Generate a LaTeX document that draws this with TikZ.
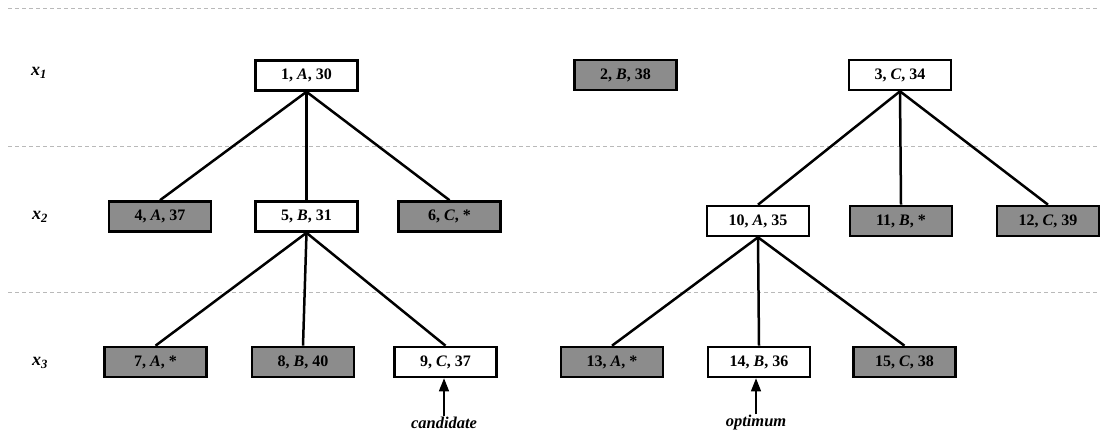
\documentclass[tikz,border=0pt]{standalone}
\usepackage{fontspec}
\setmainfont{Liberation Serif}
\usetikzlibrary{arrows.meta}
\definecolor{boxgray}{RGB}{140,140,140}
\definecolor{dashgray}{RGB}{185,185,185}
\tikzset{
  base/.style={draw=black, line width=2.6pt, minimum width=102pt, minimum height=30pt, inner sep=0pt, font=\fontsize{16}{19}\selectfont\bfseries},
  open/.style={base, fill=white},
  pruned/.style={base, fill=boxgray},
  edge/.style={line width=2.5pt, black},
  sep/.style={dashgray, line width=0.9pt, dash pattern=on 4pt off 3pt},
  lvl/.style={font=\fontsize{18}{22}\selectfont\bfseries\itshape},
  note/.style={font=\fontsize{16.5}{19}\selectfont\bfseries\itshape, inner sep=1pt},
  pointer/.style={line width=1.3pt, -{Triangle[width=10pt,length=13pt]}}
}
\begin{document}
\begin{tikzpicture}[x=1pt,y=-1pt]
\useasboundingbox (0,0) rectangle (1100,434);
% separators
\draw[sep] (8,8) -- (1100,8);
\draw[sep] (8,146) -- (1100,146);
\draw[sep] (8,292) -- (1100,292);
% level labels
\node[lvl] (l1) at (39,73) {x\textsubscript{1}};
\node[lvl] (l2) at (40,217) {x\textsubscript{2}};
\node[lvl] (l3) at (40,363) {x\textsubscript{3}};
% nodes
\node[open]   (n1)  at (306.5,75.5) {1, \textit{A}, 30};
\node[pruned] (n2)  at (625.5,75) {2, \textit{B}, 38};
\node[open]   (n3)  at (900,75) {3, \textit{C}, 34};
\node[pruned] (n4)  at (160,216.5) {4, \textit{A}, 37};
\node[open]   (n5)  at (306.5,216.5) {5, \textit{B}, 31};
\node[pruned] (n6)  at (449.5,216.5) {6, \textit{C}, *};
\node[pruned] (n7)  at (155.5,362) {7, \textit{A}, *};
\node[pruned] (n8)  at (303,362) {8, \textit{B}, 40};
\node[open]   (n9)  at (445.5,362) {9, \textit{C}, 37};
\node[open]   (n10) at (758,221) {10, \textit{A}, 35};
\node[pruned] (n11) at (901,221) {11, \textit{B}, *};
\node[pruned] (n12) at (1048,221) {12, \textit{C}, 39};
\node[pruned] (n13) at (612,362) {13, \textit{A}, *};
\node[open]   (n14) at (759,362) {14, \textit{B}, 36};
\node[pruned] (n15) at (904.5,362) {15, \textit{C}, 38};
% edges
\draw[edge] (n1.south) -- (n4.north);
\draw[edge] (n1.south) -- (n5.north);
\draw[edge] (n1.south) -- (n6.north);
\draw[edge] (n5.south) -- (n7.north);
\draw[edge] (n5.south) -- (n8.north);
\draw[edge] (n5.south) -- (n9.north);
\draw[edge] (n3.south) -- (n10.north);
\draw[edge] (n3.south) -- (n11.north);
\draw[edge] (n3.south) -- (n12.north);
\draw[edge] (n10.south) -- (n13.north);
\draw[edge] (n10.south) -- (n14.north);
\draw[edge] (n10.south) -- (n15.north);
% notes
\node[note] (cand) at (444,423) {candidate};
\node[note] (opt)  at (756,423) {optimum};
\draw[pointer] (cand.north) -- (cand.north |- n9.south);
\draw[pointer] (opt.north) -- (opt.north |- n14.south);
\end{tikzpicture}
\end{document}
